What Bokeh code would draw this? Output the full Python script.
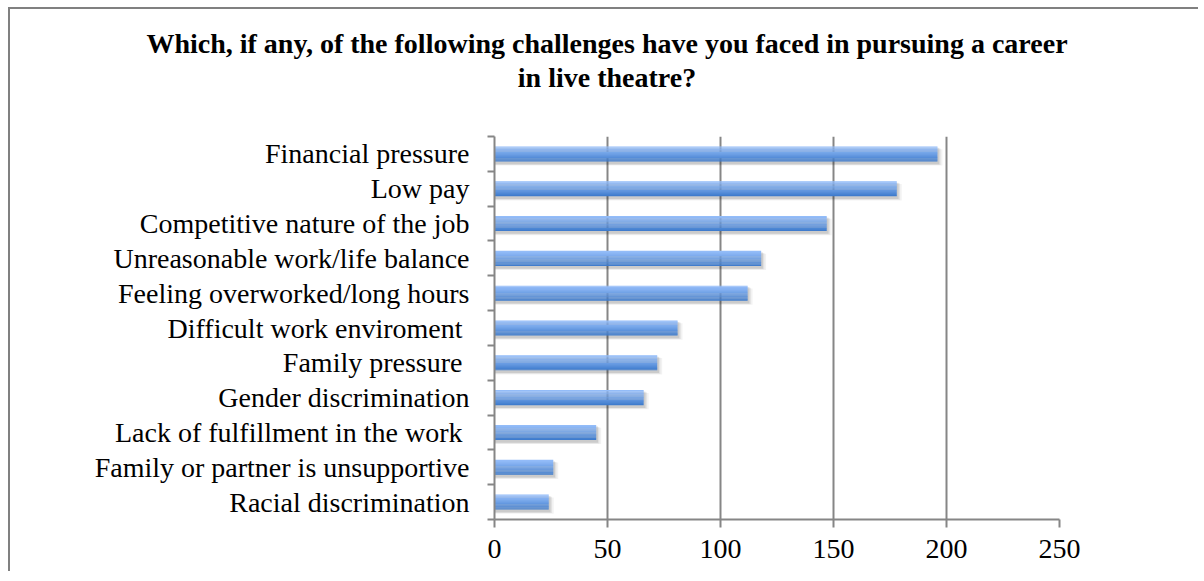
from bokeh.plotting import figure
from bokeh.models import Range1d, FixedTicker, Div, ColumnDataSource
from bokeh.layouts import column
from bokeh.embed import file_html
from bokeh.resources import INLINE

# ---- data (top to bottom as shown) ----
categories = [
    "Financial pressure",
    "Low pay",
    "Competitive nature of the job",
    "Unreasonable work/life balance",
    "Feeling overworked/long hours",
    "Difficult work enviroment ",
    "Family pressure ",
    "Gender discrimination",
    "Lack of fulfillment in the work ",
    "Family or partner is unsupportive",
    "Racial discrimination",
]
counts = [196, 178, 147, 118, 112, 81, 72, 66, 45, 26, 24]
x_ticks = [0, 50, 100, 150, 200, 250]
title_lines = ["Which, if any, of the following challenges have you faced in pursuing a career",
               "in live theatre?"]

# bottom-to-top order for numeric y positions
cats_bt = categories[::-1]
vals_bt = counts[::-1]
n = len(cats_bt)
centers = [i + 0.5 for i in range(n)]

AXIS_GRAY = "#868686"
FONT = "Liberation Serif"
OX, OY = 10, 9      # offset caused by the chart border
TITLE_H = 100
W = 1204 - OX - 4
CUT = 8             # keep page slightly shorter than the window (no scrollbar)

title_div = Div(text="<br>".join(title_lines), width=W, height=TITLE_H, margin=(0, 0, 0, 0),
                styles={"text-align": "center", "font-family": FONT, "font-weight": "bold",
                        "font-size": "28px", "line-height": "34px", "color": "#000000",
                        "padding-top": "18px", "padding-left": "4px",
                        "box-sizing": "border-box"})

p = figure(width=W, height=581 - OY - TITLE_H - CUT, output_backend="svg",
           toolbar_location=None, margin=(0, 0, 0, 0),
           x_range=Range1d(0, 250), y_range=Range1d(0, n),
           min_border_left=494 - OX, min_border_right=145 - 4,
           min_border_top=136 - OY - TITLE_H, min_border_bottom=62 - CUT)
p.outline_line_color = None
p.background_fill_color = "white"
p.border_fill_color = "white"

# ---- bars: shadow + vertical gradient built from thin strips ----
bar_h = 0.43
shadow_layers = [(0.10, 2.2, 0.05), (0.08, 1.4, 0.07), (0.06, 0.8, 0.09)]
for dy, dx, a in shadow_layers:
    src = ColumnDataSource(dict(y=[c - dy for c in centers],
                                right=[v + dx for v in vals_bt]))
    p.hbar(y="y", left=0, right="right", height=bar_h + 0.04, source=src,
           fill_color="black", fill_alpha=a, line_color=None)

top_rgb = (0x93, 0xbc, 0xf8)
bot_rgb = (0x3f, 0x7c, 0xcd)
N = 14
strip = bar_h / N
for k in range(N):
    f = (k / (N - 1)) ** 1.2
    rgb = tuple(int(round(top_rgb[j] + (bot_rgb[j] - top_rgb[j]) * f)) for j in range(3))
    col = "#%02x%02x%02x" % rgb
    off = bar_h / 2 - (k + 0.5) * strip
    src = ColumnDataSource(dict(y=[c + off for c in centers], right=vals_bt))
    p.hbar(y="y", left=0, right="right", height=strip * 1.08, source=src,
           fill_color=col, line_color=None)

# ---- axes ----
xa = p.xaxis[0]
xa.ticker = FixedTicker(ticks=x_ticks)
xa.major_tick_out = 8
xa.major_tick_in = 0
xa.minor_tick_out = 0
xa.minor_tick_in = 0
xa.axis_line_color = AXIS_GRAY
xa.axis_line_width = 2
xa.major_tick_line_color = AXIS_GRAY
xa.major_tick_line_width = 2
xa.major_label_text_font = FONT
xa.major_label_text_font_size = "28px"
xa.major_label_text_color = "#000000"
xa.major_label_standoff = 12

ya = p.yaxis[0]
ya.ticker = FixedTicker(ticks=centers, minor_ticks=list(range(n + 1)))
ya.major_label_overrides = {c: lab for c, lab in zip(centers, cats_bt)}
ya.major_tick_out = 0
ya.major_tick_in = 0
ya.minor_tick_out = 7
ya.minor_tick_in = 0
ya.minor_tick_line_color = AXIS_GRAY
ya.minor_tick_line_width = 2
ya.axis_line_color = AXIS_GRAY
ya.axis_line_width = 2
ya.major_label_text_font = FONT
ya.major_label_text_font_size = "28px"
ya.major_label_text_color = "#000000"
ya.major_label_standoff = 18

p.xgrid.ticker = FixedTicker(ticks=x_ticks)
p.xgrid.grid_line_color = AXIS_GRAY
p.xgrid.grid_line_width = 2
p.ygrid.grid_line_color = None

layout = column(title_div, p, spacing=0, margin=(0, 0, 0, 0), width=W,
                height=581 - OY - CUT,
                styles={"margin-left": f"{OX}px", "margin-top": f"{OY}px",
                        "box-shadow": "-2px -2px 0 0 #808080",
                        "background-color": "white", "overflow": "hidden"})

open("out.html", "w").write(file_html(layout, INLINE))
